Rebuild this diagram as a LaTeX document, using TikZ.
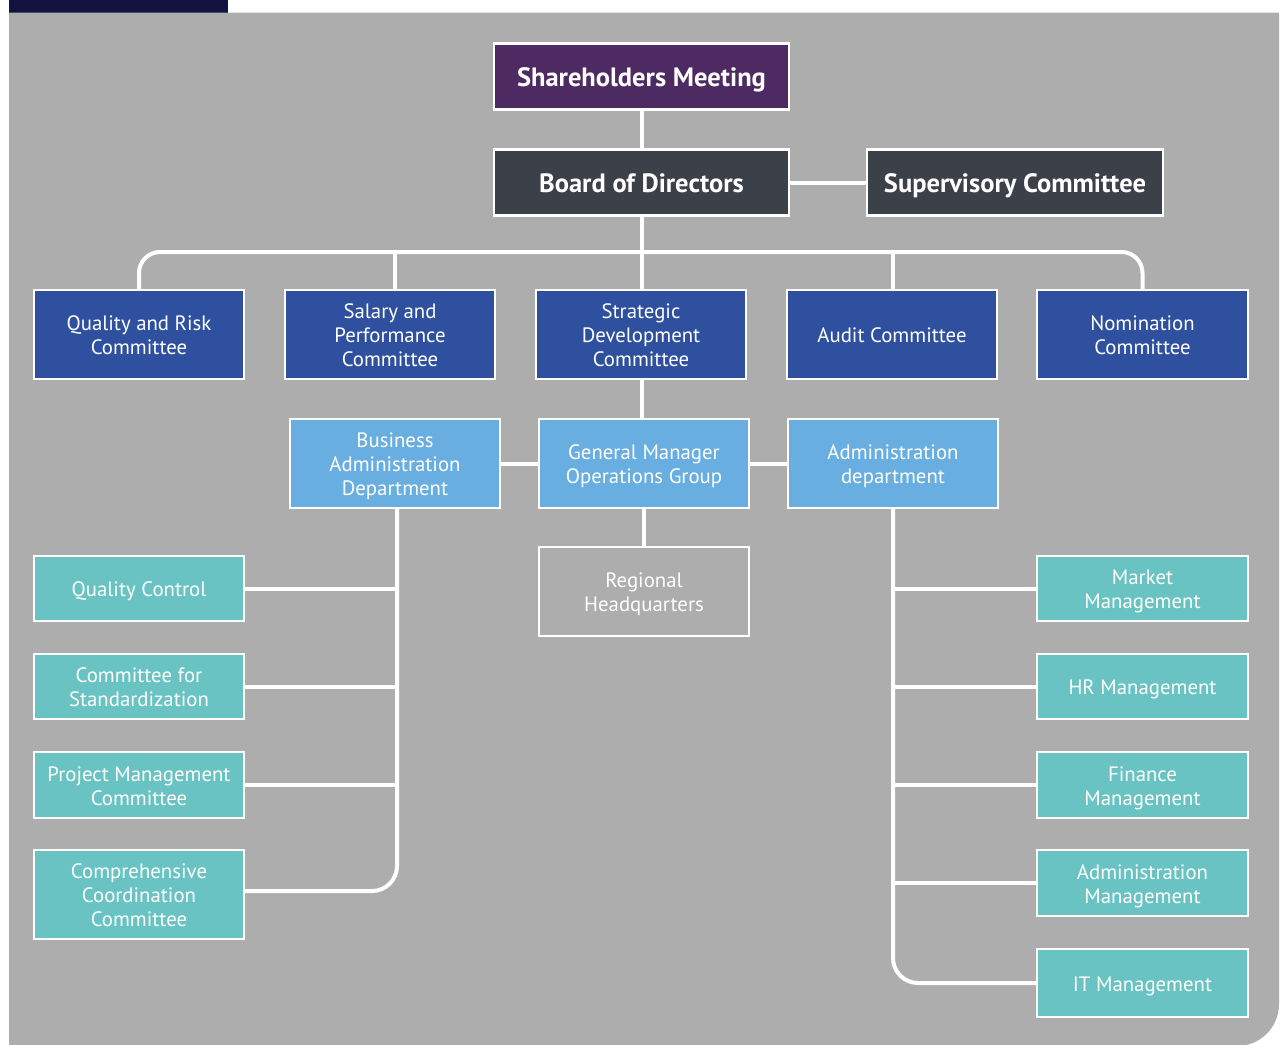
\documentclass[tikz,border=0pt]{standalone}
\usepackage{fontspec}
\setmainfont{PT Sans}
\definecolor{bgc}{HTML}{ADADAD}
\definecolor{navy}{HTML}{13123E}
\definecolor{purp}{HTML}{4E2A63}
\definecolor{slate}{HTML}{3B4049}
\definecolor{royal}{HTML}{2E509E}
\definecolor{sky}{HTML}{69AEE0}
\definecolor{teal}{HTML}{69C3C3}
\newcommand\hs{\rule{0pt}{21.5pt}}
\begin{document}
\begin{tikzpicture}[x=1pt,y=-1pt,
  bx/.style={draw=white, line width=2.5pt, inner sep=0pt, outer sep=0pt,
    text=white, align=center, font=\fontsize{20.8}{24}\selectfont,
    execute at begin node={\rule{0pt}{21.5pt}},
    execute at end node={\rule[-4.8pt]{0pt}{4.8pt}}},
  big/.style={bx, font=\bfseries\fontsize{26.5}{30}\selectfont,
    execute at begin node={\rule{0pt}{26.5pt}},
    execute at end node={\rule[-6pt]{0pt}{6pt}}},
  wire/.style={draw=white, line width=4pt},
]
\useasboundingbox (0,0) rectangle (1284,1044);
% background
\fill[white] (0,0) rectangle (1284,1044);
\fill[navy] (9,0) rectangle (228,12.5);
\fill[bgc] (9,12.5) -- (1279,12.5) -- (1279,1004) arc[start angle=0,end angle=90,radius=42] -- (9,1046) -- cycle;

% top
\node[big, fill=purp, minimum width=295pt, minimum height=66pt] (sm) at (641.5,76.5) {Shareholders Meeting};
\node[big, fill=slate, minimum width=295pt, minimum height=66pt] (bod) at (641.5,182.5) {Board of Directors};
\node[big, fill=slate, minimum width=296pt, minimum height=66pt] (sc) at (1015,182.5) {Supervisory Committee};

% committees
\node[bx, fill=royal, minimum width=210pt, minimum height=89pt] (qr) at (139,334.5) {\hs Quality and Risk\\Committee};
\node[bx, fill=royal, minimum width=210pt, minimum height=89pt] (sp) at (390,334.5) {\hs Salary and\\Performance\\Committee};
\node[bx, fill=royal, minimum width=210pt, minimum height=89pt] (sd) at (641,334.5) {\hs Strategic\\Development\\Committee};
\node[bx, fill=royal, minimum width=210pt, minimum height=89pt] (ac) at (892,334.5) {Audit Committee};
\node[bx, fill=royal, minimum width=211pt, minimum height=89pt] (nc) at (1142.5,334.5) {\hs Nomination\\Committee};

% second row
\node[bx, fill=sky, minimum width=210pt, minimum height=89pt] (ba) at (395,463.5) {\hs Business\\Administration\\Department};
\node[bx, fill=sky, minimum width=210pt, minimum height=89pt] (gm) at (644,463.5) {\hs General Manager\\Operations Group};
\node[bx, fill=sky, minimum width=210pt, minimum height=89pt] (ad) at (893,463.5) {\hs Administration\\department};
\node[bx, fill=bgc, minimum width=210pt, minimum height=89pt] (rh) at (644,591.5) {\hs Regional\\Headquarters};

% left column
\node[bx, fill=teal, minimum width=210pt, minimum height=65pt] (qc) at (139,588.5) {Quality Control};
\node[bx, fill=teal, minimum width=210pt, minimum height=65pt] (cs) at (139,686.5) {\hs Committee for\\Standardization};
\node[bx, fill=teal, minimum width=210pt, minimum height=66pt] (pm) at (139,785) {\hs Project Management\\Committee};
\node[bx, fill=teal, minimum width=210pt, minimum height=89pt] (cc) at (139,894.5) {\hs Comprehensive\\Coordination\\Committee};

% right column
\node[bx, fill=teal, minimum width=211pt, minimum height=65pt] (mm) at (1142.5,588.5) {\hs Market\\Management};
\node[bx, fill=teal, minimum width=211pt, minimum height=65pt] (hr) at (1142.5,686.5) {HR Management};
\node[bx, fill=teal, minimum width=211pt, minimum height=66pt] (fm) at (1142.5,785) {\hs Finance\\Management};
\node[bx, fill=teal, minimum width=211pt, minimum height=66pt] (am) at (1142.5,883) {\hs Administration\\Management};
\node[bx, fill=teal, minimum width=211pt, minimum height=68pt] (it) at (1142.5,983) {IT Management};

% connectors
\coordinate (bus) at (642,252);
\draw[wire] (sm.south) -- (bod.north);
\draw[wire] (bod.east) -- (sc.west);
\draw[wire] ([xshift=0.5pt]bod.south) -- (bus);
\draw[wire, rounded corners=21pt] (qr.north) |- (bus) -| (nc.north);
\draw[wire] ([xshift=5pt]sp.north) -- ([xshift=5pt]sp.north |- bus);
\draw[wire] ([xshift=1pt]sd.north) -- ([xshift=1pt]sd.north |- bus);
\draw[wire] ([xshift=1pt]ac.north) -- ([xshift=1pt]ac.north |- bus);
\draw[wire] ([xshift=1pt]sd.south) -- ([xshift=-2pt]gm.north);
\draw[wire] (ba.east) -- (gm.west);
\draw[wire] (gm.east) -- (ad.west);
\draw[wire] (gm.south) -- (rh.north);

\coordinate (lv) at ([xshift=2pt]ba.south);
\draw[wire, rounded corners=25pt] (lv) |- ([yshift=3.5pt]cc.east);
\draw[wire] (qc.east) -- (qc.east -| lv);
\draw[wire] (cs.east) -- (cs.east -| lv);
\draw[wire] (pm.east) -- (pm.east -| lv);

\draw[wire, rounded corners=25pt] (ad.south) |- (it.west);
\draw[wire] (mm.west) -- (mm.west -| ad.south);
\draw[wire] (hr.west) -- (hr.west -| ad.south);
\draw[wire] (fm.west) -- (fm.west -| ad.south);
\draw[wire] (am.west) -- (am.west -| ad.south);
\end{tikzpicture}
\end{document}
